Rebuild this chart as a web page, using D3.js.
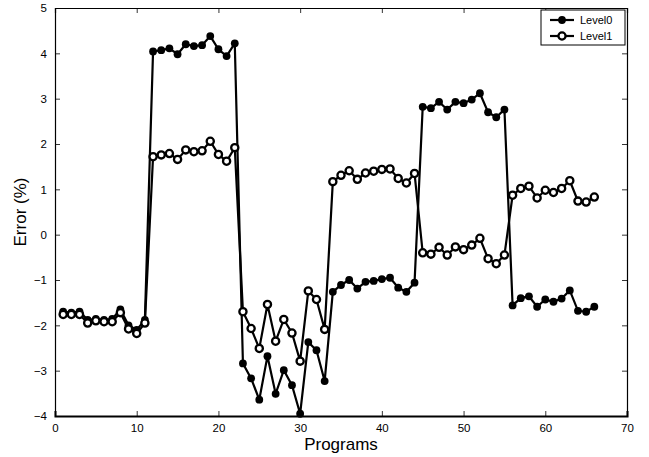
<!DOCTYPE html>
<html>
<head>
<meta charset="utf-8">
<script src="https://cdn.jsdelivr.net/npm/d3@7"></script>
<style>
  body { margin: 0; background: #fff; }
  svg text { font-family: "Liberation Sans", Arial, Helvetica, sans-serif; }
</style>
</head>
<body>
<div id="chart"></div>
<script>
const programs = d3.range(1, 67);
const level0 = [
  -1.70, -1.72, -1.70, -1.88, -1.86, -1.88, -1.86, -1.65, -2.00, -2.10, -1.88,
  4.04, 4.07, 4.11, 3.98, 4.20, 4.16, 4.18, 4.38, 4.09, 3.94, 4.22,
  -2.84, -3.17, -3.64, -2.68, -3.51, -2.99, -3.32, -3.95, -2.37, -2.55, -3.23,
  -1.26, -1.11, -1.00, -1.19, -1.04, -1.02, -0.98, -0.95, -1.17, -1.26, -1.06,
  2.82, 2.79, 2.93, 2.76, 2.93, 2.90, 2.98, 3.12, 2.70, 2.59, 2.76,
  -1.56, -1.40, -1.36, -1.59, -1.43, -1.48, -1.41, -1.23, -1.68, -1.70, -1.59
];
const level1 = [
  -1.76, -1.76, -1.76, -1.95, -1.90, -1.92, -1.92, -1.72, -2.08, -2.18, -1.95,
  1.72, 1.76, 1.79, 1.66, 1.87, 1.83, 1.85, 2.06, 1.77, 1.62, 1.92,
  -1.70, -2.07, -2.51, -1.54, -2.35, -1.87, -2.17, -2.79, -1.24, -1.43, -2.09,
  1.17, 1.31, 1.41, 1.22, 1.36, 1.40, 1.44, 1.45, 1.24, 1.14, 1.35,
  -0.40, -0.43, -0.28, -0.45, -0.27, -0.33, -0.23, -0.08, -0.53, -0.64, -0.45,
  0.87, 1.02, 1.07, 0.81, 0.98, 0.93, 1.02, 1.19, 0.74, 0.72, 0.83
];
const xTicks = [0, 10, 20, 30, 40, 50, 60, 70];
const yTicks = [-4, -3, -2, -1, 0, 1, 2, 3, 4, 5];
const seriesNames = ["Level0", "Level1"];

const W = 649, H = 457;
const margin = { left: 55, right: 22, top: 8, bottom: 41 };
const iw = W - margin.left - margin.right;
const ih = H - margin.top - margin.bottom;

const svg = d3.select("#chart").append("svg").attr("width", W).attr("height", H);
const g = svg.append("g").attr("transform", `translate(${margin.left},${margin.top})`);

const x = d3.scaleLinear().domain([0, 70]).range([0, iw]);
const y = d3.scaleLinear().domain([-4, 5]).range([ih, 0]);

const fmt = d => d < 0 ? "\u2212" + Math.abs(d) : String(d);

const tickLen = 5;
const xb = g.append("g").attr("transform", `translate(0,${ih})`)
  .call(d3.axisBottom(x).tickValues(xTicks).tickSize(-tickLen).tickPadding(8).tickFormat(fmt));
const xt = g.append("g")
  .call(d3.axisTop(x).tickValues(xTicks).tickSize(-tickLen).tickFormat(""));
const yl = g.append("g")
  .call(d3.axisLeft(y).tickValues(yTicks).tickSize(-tickLen).tickPadding(8).tickFormat(fmt));
const yr = g.append("g").attr("transform", `translate(${iw},0)`)
  .call(d3.axisRight(y).tickValues(yTicks).tickSize(-tickLen).tickFormat(""));
[xb, xt, yl, yr].forEach(a => {
  a.select(".domain").attr("stroke", "#000").attr("stroke-width", 1.2);
  a.selectAll(".tick line").attr("stroke", "#000").attr("stroke-width", 0.8);
  a.selectAll("text").attr("font-size", 11.5).attr("fill", "#000")
    .attr("font-family", "Liberation Sans, Arial, sans-serif");
});
xb.select(".domain").attr("stroke-width", 2);

const line = d3.line().x((d, i) => x(programs[i])).y(d => y(d));
g.append("path").datum(level0).attr("d", line)
  .attr("fill", "none").attr("stroke", "#000").attr("stroke-width", 2.2);
g.append("path").datum(level1).attr("d", line)
  .attr("fill", "none").attr("stroke", "#000").attr("stroke-width", 2.2);

g.selectAll(".m0").data(level0).enter().append("circle")
  .attr("cx", (d, i) => x(programs[i])).attr("cy", d => y(d))
  .attr("r", 3.9).attr("fill", "#000");
g.selectAll(".m1").data(level1).enter().append("circle")
  .attr("cx", (d, i) => x(programs[i])).attr("cy", d => y(d))
  .attr("r", 3.6).attr("fill", "#fff").attr("stroke", "#000").attr("stroke-width", 2.3);

svg.append("text").attr("x", margin.left + iw / 2).attr("y", H - 7)
  .attr("text-anchor", "middle").attr("font-size", 17).text("Programs");
svg.append("text").attr("transform", `translate(26,${margin.top + ih / 2}) rotate(-90)`)
  .attr("text-anchor", "middle").attr("font-size", 17).text("Error (%)");

const lg = svg.append("g").attr("transform", "translate(541,10)");
lg.append("rect").attr("width", 84).attr("height", 35)
  .attr("fill", "#fff").attr("stroke", "#000").attr("stroke-width", 1);
seriesNames.forEach((name, i) => {
  const yy = 10 + i * 16;
  lg.append("line").attr("x1", 9).attr("x2", 33).attr("y1", yy).attr("y2", yy)
    .attr("stroke", "#000").attr("stroke-width", 2.2);
  lg.append("circle").attr("cx", 21).attr("cy", yy).attr("r", i === 0 ? 3.9 : 3.6)
    .attr("fill", i === 0 ? "#000" : "#fff").attr("stroke", "#000")
    .attr("stroke-width", i === 0 ? 0 : 2.3);
  lg.append("text").attr("x", 39).attr("y", yy + 4).attr("font-size", 11).text(name);
});
</script>
</body>
</html>
